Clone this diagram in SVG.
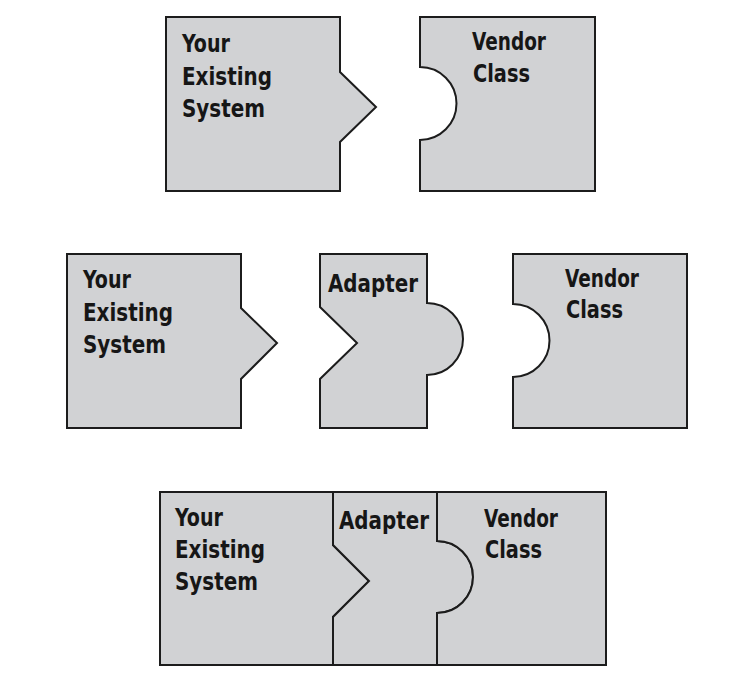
<svg xmlns="http://www.w3.org/2000/svg" width="755" height="689" viewBox="0 0 755 689">
<style>
.p{fill:#d1d2d4;stroke:#1c1c1c;stroke-width:2;stroke-linejoin:miter}
.t{font-family:"DejaVu Sans Condensed","DejaVu Sans",sans-serif;font-weight:bold;font-size:24px;fill:#161616}
</style>
<rect width="755" height="689" fill="#ffffff"/>
<g id="row1-existing">
<path class="p" d="M166,17 H340 V72 L376,107 L340,142 V191 H166 Z"/>
<text class="t" x="182" y="52" textLength="48" lengthAdjust="spacingAndGlyphs">Your</text>
<text class="t" x="182" y="85" textLength="90" lengthAdjust="spacingAndGlyphs">Existing</text>
<text class="t" x="182" y="117" textLength="83" lengthAdjust="spacingAndGlyphs">System</text>
</g>
<g id="row1-vendor">
<path class="p" d="M420,17 H595 V191 H420 V140 A36.5,36.5 0 0 0 420,67 Z"/>
<text class="t" x="472" y="50" textLength="74" lengthAdjust="spacingAndGlyphs">Vendor</text>
<text class="t" x="473" y="82" textLength="57" lengthAdjust="spacingAndGlyphs">Class</text>
</g>
<g id="row2-existing">
<path class="p" d="M67,254 H241 V308 L277,343 L241,379 V428 H67 Z"/>
<text class="t" x="83" y="288" textLength="48" lengthAdjust="spacingAndGlyphs">Your</text>
<text class="t" x="83" y="321" textLength="90" lengthAdjust="spacingAndGlyphs">Existing</text>
<text class="t" x="83" y="353" textLength="83" lengthAdjust="spacingAndGlyphs">System</text>
</g>
<g id="row2-adapter">
<path class="p" d="M320,254 H427 V303 A36,36 0 0 1 427,375 V428 H320 V379 L357,343 L320,307 Z"/>
<text class="t" x="328" y="292" textLength="90" lengthAdjust="spacingAndGlyphs">Adapter</text>
</g>
<g id="row2-vendor">
<path class="p" d="M513,254 H687 V428 H513 V377 A36.5,36.5 0 0 0 513,304 Z"/>
<text class="t" x="565" y="287" textLength="74" lengthAdjust="spacingAndGlyphs">Vendor</text>
<text class="t" x="566" y="318" textLength="57" lengthAdjust="spacingAndGlyphs">Class</text>
</g>
<g id="row3-existing">
<path class="p" d="M160,492 H333 V545 L369,581 L333,617 V665 H160 Z"/>
<text class="t" x="175" y="526" textLength="48" lengthAdjust="spacingAndGlyphs">Your</text>
<text class="t" x="175" y="558" textLength="90" lengthAdjust="spacingAndGlyphs">Existing</text>
<text class="t" x="175" y="590" textLength="83" lengthAdjust="spacingAndGlyphs">System</text>
</g>
<g id="row3-adapter">
<path class="p" d="M333,492 H437 V541 A36,36 0 0 1 437,613 V665 H333 V617 L369,581 L333,545 Z"/>
<text class="t" x="339" y="529" textLength="90" lengthAdjust="spacingAndGlyphs">Adapter</text>
</g>
<g id="row3-vendor">
<path class="p" d="M437,492 H606 V665 H437 V613 A36,36 0 0 0 437,541 Z"/>
<text class="t" x="484" y="527" textLength="74" lengthAdjust="spacingAndGlyphs">Vendor</text>
<text class="t" x="485" y="558" textLength="57" lengthAdjust="spacingAndGlyphs">Class</text>
</g>
</svg>
